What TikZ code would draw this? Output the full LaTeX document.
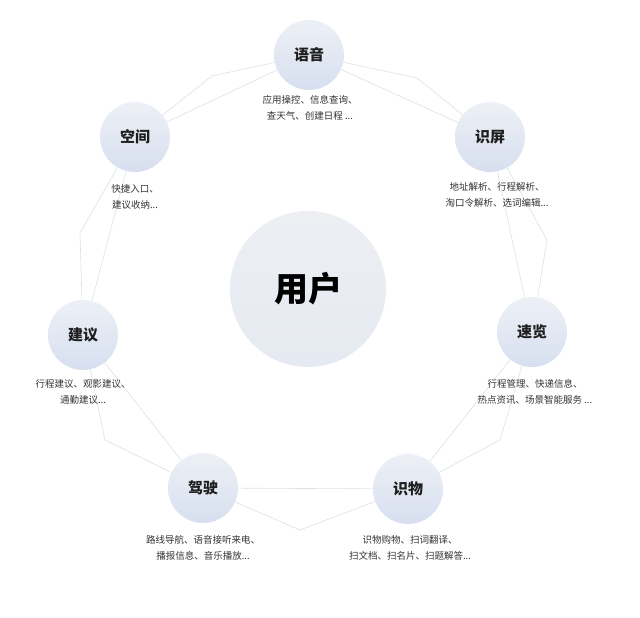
\documentclass[tikz,border=0pt]{standalone}
\usepackage{fontspec}
\setmainfont{Noto Sans CJK SC}
\usetikzlibrary{positioning}
\definecolor{bubbletop}{HTML}{EDF0F6}
\definecolor{bubblebot}{HTML}{D7DFEF}
\definecolor{hubtop}{HTML}{EDEFF3}
\definecolor{hubbot}{HTML}{E5E9F1}
\definecolor{webline}{HTML}{DDDFE3}
\definecolor{inktext}{HTML}{1E1E1E}
\definecolor{desctext}{HTML}{333333}
\begin{document}
\begin{tikzpicture}[x=1pt, y=-1pt,
    bubble/.style={circle, minimum size=70pt, inner sep=0pt, top color=bubbletop,
        bottom color=bubblebot, draw=none, text=inktext, font=\fontsize{15}{15}\selectfont\bfseries},
    hub/.style={circle, minimum size=156pt, inner sep=0pt, top color=hubtop,
        bottom color=hubbot, draw=none, text=black, font=\fontsize{34}{34}\selectfont\bfseries},
    desc/.style={align=center, text=desctext, font=\fontsize{9.5}{16.5}\selectfont},
    web/.style={draw=webline, line width=0.6pt}]
\useasboundingbox (0,0) rectangle (640,618);

% centre
\node[hub] (user) at (308,289) {用户};

% outer ring
\node[bubble] (yuyin)    at (309,55)  {语音};
\node[bubble] (kongjian) at (135,137) {空间};
\node[bubble] (shiping)  at (490,137) {识屏};
\node[bubble] (jianyi)   at (83,335)  {建议};
\node[bubble] (sulan)    at (532,332) {速览};
\node[bubble] (jiashi)   at (203,488) {驾驶};
\node[bubble] (shiwu)    at (408,489) {识物};

% kinks of the web
\coordinate (k1) at (212,76);
\coordinate (k2) at (417,78);
\coordinate (k3) at (547,240);
\coordinate (k4) at (500,440);
\coordinate (k5) at (300,530);
\coordinate (k6) at (105,440);
\coordinate (k7) at (80,233);

% web
\draw[web] (yuyin) -- (shiping);
\draw[web] (yuyin) -- (k2) -- (shiping);
\draw[web] (shiping) -- (sulan);
\draw[web] (shiping) -- (k3) -- (sulan);
\draw[web] (sulan) -- (shiwu);
\draw[web] (sulan) -- (k4) -- (shiwu);
\draw[web] (shiwu) -- (jiashi);
\draw[web] (shiwu) -- (k5) -- (jiashi);
\draw[web] (jiashi) -- (jianyi);
\draw[web] (jiashi) -- (k6) -- (jianyi);
\draw[web] (jianyi) -- (kongjian);
\draw[web] (jianyi) -- (k7) -- (kongjian);
\draw[web] (kongjian) -- (yuyin);
\draw[web] (kongjian) -- (k1) -- (yuyin);

% descriptions
\node[desc] (yuyin-d)    at (310,108) {应用操控、信息查询、\\查天气、创建日程 ...};
\node[desc] (kongjian-d) at (135,197) {快捷入口、\\建议收纳...};
\node[desc] (shiping-d)  at (497,195) {地址解析、行程解析、\\淘口令解析、选词编辑...};
\node[desc] (jianyi-d)   at (83,392)  {行程建议、观影建议、\\通勤建议...};
\node[desc] (sulan-d)    at (535,392) {行程管理、快递信息、\\热点资讯、场景智能服务 ...};
\node[desc] (jiashi-d)   at (203,548) {路线导航、语音接听来电、\\播报信息、音乐播放...};
\node[desc] (shiwu-d)    at (410,548) {识物购物、扫词翻译、\\扫文档、扫名片、扫题解答...};
\end{tikzpicture}
\end{document}
